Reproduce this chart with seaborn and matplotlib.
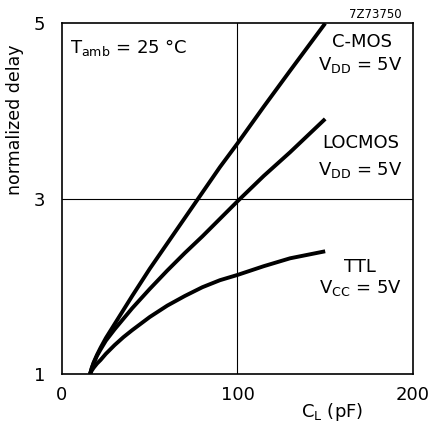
import pandas as pd
import seaborn as sns
import matplotlib.pyplot as plt

# values
load_pf = [16, 17, 18, 20, 22, 25, 30, 35, 40, 50, 60, 70, 80, 90, 100, 115, 130, 150]
cmos_delay = [1.0, 1.07, 1.13, 1.22, 1.30, 1.41, 1.57, 1.73, 1.89, 2.20, 2.49,
              2.78, 3.07, 3.36, 3.63, 4.05, 4.46, 5.0]
locmos_delay = [1.0, 1.07, 1.12, 1.21, 1.28, 1.38, 1.51, 1.63, 1.75, 1.97, 2.18,
                2.38, 2.57, 2.77, 2.97, 3.26, 3.53, 3.91]
ttl_delay = [1.0, 1.04, 1.07, 1.12, 1.16, 1.23, 1.33, 1.42, 1.50, 1.65, 1.78,
             1.89, 1.99, 2.07, 2.13, 2.23, 2.32, 2.40]

x_ticks = [0, 100, 200]
y_ticks = [1, 3, 5]

df = pd.DataFrame({
    'CL': load_pf * 3,
    'delay': cmos_delay + locmos_delay + ttl_delay,
    'family': ['C-MOS'] * len(load_pf) + ['LOCMOS'] * len(load_pf) + ['TTL'] * len(load_pf),
})

sns.set_style('white')
plt.rcParams['font.family'] = ['DejaVu Sans']
plt.rcParams['mathtext.fontset'] = 'dejavusans'
plt.rcParams['text.color'] = 'black'
plt.rcParams['xtick.color'] = 'black'
plt.rcParams['ytick.color'] = 'black'

fig = plt.figure(figsize=(4.29, 4.25), dpi=100)
ax = fig.add_axes([0.1445, 0.12, 0.818, 0.825])

ax.axvline(100, color='black', lw=0.8, zorder=1)
ax.axhline(3, color='black', lw=0.8, zorder=1)

sns.lineplot(data=df, x='CL', y='delay', units='family', estimator=None,
             color='black', lw=2.8, sort=False, ax=ax, legend=False,
             solid_joinstyle='round', solid_capstyle='butt')

ax.set_xlim(0, 200)
ax.set_ylim(1, 5)
ax.set_xticks(x_ticks)
ax.set_yticks(y_ticks)
ax.tick_params(length=0, labelsize=13, pad=9)
ax.tick_params(axis='y', pad=12)
for s in ax.spines.values():
    s.set_linewidth(1.2)
    s.set_color('black')
ax.set_xlabel('')
ax.set_ylabel('')

fig.text(0.035, 0.718, 'normalized delay', rotation=90, ha='center', va='center', fontsize=12.5)
fig.text(0.774, 0.03, r'C$_\mathregular{L}$ (pF)', ha='center', va='center', fontsize=13)
fig.text(0.937, 0.965, '7Z73750', ha='right', va='center', fontsize=8.5)

ax.text(4.5, 4.73, r'T$_\mathregular{amb}$ = 25 °C', ha='left', va='center', fontsize=13)
ax.text(171, 4.79, 'C-MOS', ha='center', va='center', fontsize=13)
ax.text(170, 4.53, r'V$_\mathregular{DD}$ = 5V', ha='center', va='center', fontsize=13)
ax.text(170, 3.63, 'LOCMOS', ha='center', va='center', fontsize=13)
ax.text(170, 3.33, r'V$_\mathregular{DD}$ = 5V', ha='center', va='center', fontsize=13)
ax.text(170, 2.22, 'TTL', ha='center', va='center', fontsize=13)
ax.text(170, 1.98, r'V$_\mathregular{CC}$ = 5V', ha='center', va='center', fontsize=13)

fig.savefig('out.png', dpi=100)
